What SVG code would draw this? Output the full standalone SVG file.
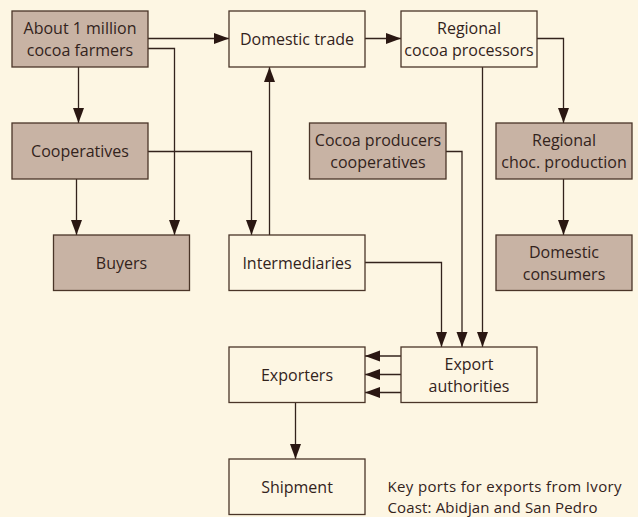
<svg xmlns="http://www.w3.org/2000/svg" width="638" height="517" viewBox="0 0 638 517">
<defs>
<marker id="ah" markerUnits="userSpaceOnUse" markerWidth="16" markerHeight="12" refX="15" refY="5.5" orient="auto">
<path d="M0,0 L15,5.5 L0,11 Z" fill="#2a1712"/>
</marker>
<style>
.bg{fill:#fdf6e3}
.box{fill:#fdf6e3;stroke:#4a3528;stroke-width:1.3}
.dark{fill:#c8b3a4;stroke:#4a3528;stroke-width:1.3}
text{font-family:"Open Sans","Noto Sans",sans-serif;font-size:16px;fill:#33231c;text-anchor:middle}
.note{text-anchor:start;font-size:15px}
#connectors path{fill:none;stroke:#33231c;stroke-width:1.3;marker-end:url(#ah)}
</style>
</defs>
<rect class="bg" x="0" y="0" width="638" height="517"/>
<g id="connectors">
<path d="M148,38.5 H229"/>
<path d="M148,48.5 H174.5 V235"/>
<path d="M78.5,67 V123"/>
<path d="M76.5,179 V235"/>
<path d="M148,151.5 H251.5 V235"/>
<path d="M269.5,235 V67"/>
<path d="M365,38.5 H401"/>
<path d="M537,38.5 H563.5 V123"/>
<path d="M563.5,179 V235"/>
<path d="M482.5,67 V347"/>
<path d="M446,151.5 H462 V347"/>
<path d="M365,262.5 H441.5 V347"/>
<path d="M401,356 H365"/>
<path d="M401,374.5 H365"/>
<path d="M401,392.5 H365"/>
<path d="M295.5,402 V459"/>
</g>
<g id="farmers"><rect class="dark" x="12" y="11" width="136" height="56"/><text x="80" y="34">About 1 million</text><text x="80" y="56">cocoa farmers</text></g>
<g id="domestic-trade"><rect class="box" x="229" y="11" width="136" height="56"/><text x="297" y="44.5">Domestic trade</text></g>
<g id="regional-processors"><rect class="box" x="401" y="11" width="136" height="56"/><text x="469" y="34">Regional</text><text x="469" y="56">cocoa processors</text></g>
<g id="cooperatives"><rect class="dark" x="12" y="123" width="136" height="56"/><text x="80" y="157">Cooperatives</text></g>
<g id="producers-coops"><rect class="dark" x="309.5" y="123" width="136.5" height="56"/><text x="378" y="146">Cocoa producers</text><text x="378" y="168">cooperatives</text></g>
<g id="regional-choc"><rect class="dark" x="496" y="123" width="136" height="56"/><text x="564" y="146">Regional</text><text x="564" y="168">choc. production</text></g>
<g id="buyers"><rect class="dark" x="53.5" y="235" width="136" height="55.5"/><text x="121.5" y="268.5">Buyers</text></g>
<g id="intermediaries"><rect class="box" x="229" y="235" width="136" height="55.5"/><text x="297" y="268.5">Intermediaries</text></g>
<g id="domestic-consumers"><rect class="dark" x="496" y="235" width="136" height="55.5"/><text x="564" y="258">Domestic</text><text x="564" y="280">consumers</text></g>
<g id="exporters"><rect class="box" x="229" y="347" width="136" height="55.5"/><text x="297" y="380.5">Exporters</text></g>
<g id="export-authorities"><rect class="box" x="401" y="347" width="136" height="55.5"/><text x="469" y="370">Export</text><text x="469" y="392">authorities</text></g>
<g id="shipment"><rect class="box" x="229" y="459" width="136" height="55.5"/><text x="297" y="492.5">Shipment</text></g>
<text class="note" x="387.5" y="492" textLength="234" lengthAdjust="spacing">Key ports for exports from Ivory</text>
<text class="note" x="387.5" y="512.5" textLength="210" lengthAdjust="spacing">Coast: Abidjan and San Pedro</text>
</svg>
